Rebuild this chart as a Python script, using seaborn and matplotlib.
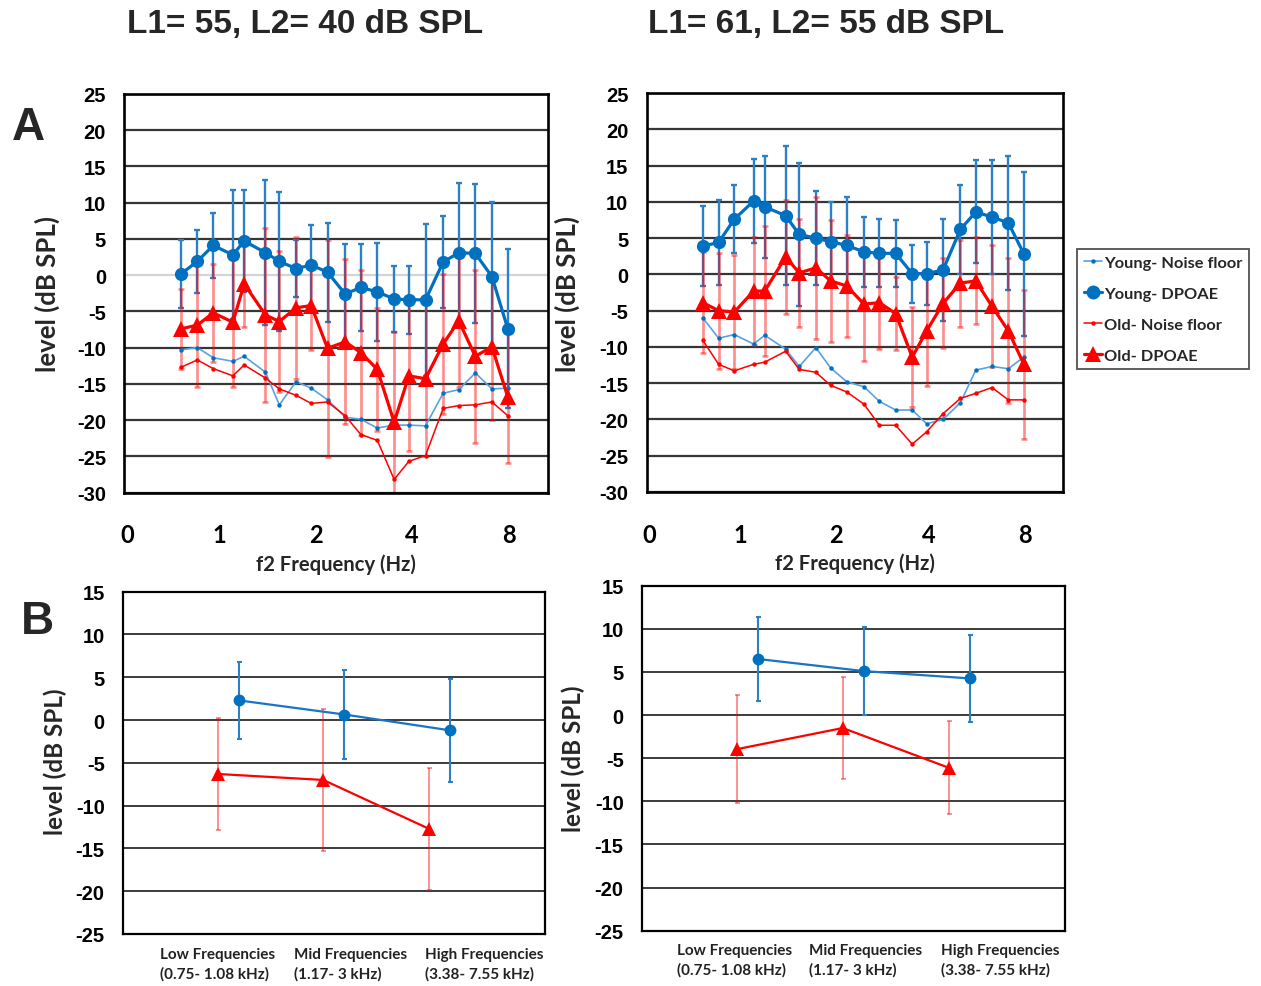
import matplotlib
matplotlib.use("Agg")
import matplotlib.pyplot as plt
from matplotlib.lines import Line2D
import numpy as np
import pandas as pd
import seaborn as sns

# ---------------- data ----------------
# f2 frequencies of the DP-gram (kHz)
freq = [0.75, 0.84, 0.94, 1.08, 1.17, 1.36, 1.5, 1.69, 1.88, 2.11, 2.39,
        2.67, 3.0, 3.38, 3.75, 4.22, 4.78, 5.34, 6.0, 6.75, 7.55]

# L1=55 / L2=40 dB SPL
young_dp_55 = [0.2, 1.9, 4.1, 2.8, 4.7, 3.1, 1.9, 0.9, 1.4, 0.4, -2.6,
               -1.7, -2.3, -3.3, -3.4, -3.4, 1.8, 3.1, 3.0, -0.2, -7.4]
young_sd_55 = [4.7, 4.3, 4.5, 8.9, 7.0, 10.0, 9.6, 3.9, 5.5, 6.8, 6.9,
               6.0, 6.8, 4.6, 4.7, 10.5, 6.3, 9.6, 9.6, 10.3, 11.0]
old_dp_55 = [-7.4, -6.9, -5.2, -6.5, -1.2, -5.5, -6.4, -4.5, -4.2, -10.1, -9.2,
             -10.7, -13.0, -20.3, -13.9, -14.3, -9.5, -6.3, -11.2, -9.9, -16.8]
old_sd_55 = [5.5, 8.5, 6.8, 8.9, 5.9, 12.0, 9.7, 9.8, 6.2, 15.0, 11.4,
             11.4, 8.5, 12.5, 10.4, 10.7, 9.7, 9.2, 11.9, 10.1, 9.1]
young_nf_55 = [-10.3, -10.0, -11.4, -11.9, -11.2, -13.4, -17.9, -14.7, -15.6, -17.2, -19.6,
               -19.9, -21.1, -20.7, -20.7, -20.8, -16.3, -15.8, -13.5, -15.7, -15.6]
old_nf_55 = [-12.7, -11.7, -12.9, -13.9, -12.4, -14.2, -15.7, -16.6, -17.7, -17.5, -19.4,
             -22.0, -22.8, -28.2, -25.7, -24.9, -18.4, -18.0, -17.9, -17.5, -19.4]

# L1=61 / L2=55 dB SPL
young_dp_61 = [3.9, 4.4, 7.6, 10.1, 9.3, 8.1, 5.5, 5.0, 4.5, 4.0, 3.1,
               2.9, 2.9, 0.1, 0.1, 0.6, 6.2, 8.6, 7.9, 7.1, 2.8]
young_sd_61 = [5.5, 5.9, 4.7, 5.8, 7.0, 9.6, 9.9, 6.5, 5.5, 6.6, 4.8,
               4.7, 4.6, 4.0, 4.3, 7.0, 6.1, 7.1, 7.8, 9.2, 11.3]
old_dp_61 = [-3.9, -5.0, -5.2, -2.3, -2.3, 2.4, 0.2, 0.9, -0.9, -1.6, -4.1,
             -3.9, -5.4, -11.4, -7.8, -4.0, -1.2, -0.9, -4.4, -7.8, -12.4]
old_sd_61 = [7.0, 8.0, 7.9, 7.5, 9.0, 7.8, 7.5, 9.8, 8.4, 7.0, 7.9,
             6.4, 5.0, 6.9, 7.6, 6.2, 6.0, 6.0, 8.4, 10.0, 10.3]
young_nf_61 = [-6.0, -8.8, -8.3, -9.6, -8.4, -10.3, -12.7, -10.1, -12.9, -14.8, -15.5,
               -17.5, -18.7, -18.7, -20.6, -20.0, -17.7, -13.2, -12.7, -13.0, -11.4]
old_nf_61 = [-9.1, -12.4, -13.3, -12.4, -12.1, -10.6, -13.1, -13.5, -15.3, -16.2, -17.9,
             -20.8, -20.8, -23.4, -21.7, -19.2, -17.1, -16.4, -15.6, -17.3, -17.3]

# frequency-band averages
bands = ["Low Frequencies\n(0.75- 1.08 kHz)",
         "Mid Frequencies\n(1.17- 3 kHz)",
         "High Frequencies\n(3.38- 7.55 kHz)"]
young_band_55 = [2.3, 0.65, -1.2]
young_band_sd_55 = [4.5, 5.15, 6.0]
old_band_55 = [-6.3, -7.0, -12.7]
old_band_sd_55 = [6.55, 8.3, 7.15]
young_band_61 = [6.5, 5.1, 4.25]
young_band_sd_61 = [4.85, 5.1, 5.05]
old_band_61 = [-3.95, -1.5, -6.1]
old_band_sd_61 = [6.3, 5.95, 5.4]

titles = ["L1= 55, L2= 40 dB SPL", "L1= 61, L2= 55 dB SPL"]
freq_tick_labels = ["0", "1", "2", "4", "8"]
series_names = ["Young- Noise floor", "Young- DPOAE", "Old- Noise floor", "Old- DPOAE"]

# ---------------- style ----------------
sns.set_theme(style="white")
plt.rcParams["font.family"] = ["Lato", "DejaVu Sans"]
NARROW = ["Liberation Sans Narrow", "Liberation Sans", "DejaVu Sans"]

BLUE = "#0070C0"
BLUE_BAR = "#2b80c8"
BLUE_NF = "#5aa2e0"
RED = "#FF0000"
RED_BAR = (1.0, 0.0, 0.0, 0.45)
GRID = "#363636"

W, H = 1261, 987
fig = plt.figure(figsize=(W / 100, H / 100), dpi=100)


def rect(x0, x1, y0, y1):
    return [x0 / W, 1 - y1 / H, (x1 - x0) / W, (y1 - y0) / H]


axA1 = fig.add_axes(rect(124, 547.5, 95, 493.5))
axA2 = fig.add_axes(rect(646.5, 1063, 94, 493))
axB1 = fig.add_axes(rect(122.7, 545, 592.7, 935))
axB2 = fig.add_axes(rect(641.7, 1065, 586.7, 931.7))

freq_ticks = [0.51, 0.98, 1.95, 3.82, 7.62]


def style_frame(ax, lw):
    for s in ax.spines.values():
        s.set_visible(True)
        s.set_color("black")
        s.set_linewidth(lw)
        s.set_zorder(6)


def draw_dpgram(ax, ydp, ysd, odp, osd, ynf, onf, light_zero):
    df = pd.DataFrame({"f": freq, "ydp": ydp, "odp": odp, "ynf": ynf, "onf": onf})
    ax.set_xscale("log")
    ax.errorbar(freq, ydp, yerr=ysd, fmt="none", ecolor=BLUE_BAR, elinewidth=1.7,
                capsize=2, capthick=1.7, zorder=2)
    ax.errorbar(freq, odp, yerr=osd, fmt="none", ecolor=RED_BAR, elinewidth=1.9,
                capsize=2, capthick=1.9, zorder=2.5)
    sns.lineplot(data=df, x="f", y="ynf", ax=ax, color=BLUE_NF, lw=1.2, marker="o",
                 markersize=3.2, markerfacecolor=BLUE, markeredgewidth=0,
                 errorbar=None, zorder=3)
    sns.lineplot(data=df, x="f", y="onf", ax=ax, color=RED, lw=1.1, marker="o",
                 markersize=3.2, markeredgewidth=0, errorbar=None, zorder=3)
    sns.lineplot(data=df, x="f", y="ydp", ax=ax, color=BLUE, lw=2.3, marker="o",
                 markersize=9.5, markeredgewidth=0, errorbar=None, zorder=4)
    sns.lineplot(data=df, x="f", y="odp", ax=ax, color=RED, lw=2.3, marker="^",
                 markersize=11, markeredgewidth=0, errorbar=None, zorder=5)
    ax.set_xlim(0.5, 10)
    ax.set_ylim(-30, 25)
    yt = list(range(-30, 30, 5))
    ax.set_yticks(yt)
    ax.set_yticklabels([str(v) for v in yt], fontfamily=NARROW, fontweight="bold",
                       fontsize=14.5)
    ax.xaxis.set_minor_locator(matplotlib.ticker.NullLocator())
    ax.set_xticks(freq_ticks)
    ax.set_xticklabels(freq_tick_labels, fontweight="bold", fontsize=17)
    ax.tick_params(axis="y", length=0, pad=13, colors="black")
    ax.tick_params(axis="x", length=0, pad=22, colors="black")
    ax.yaxis.grid(True, color=GRID, lw=1.6)
    ax.xaxis.grid(False)
    if light_zero:
        for gl, v in zip(ax.get_ygridlines(), yt):
            if v == 0:
                gl.set_color("#d4d4d4")
    ax.set_axisbelow(True)
    ax.set_xlabel("f2 Frequency (Hz)", fontweight="bold", fontsize=14.6, labelpad=5)
    ax.set_ylabel("level (dB SPL)", fontweight="bold", fontsize=18.5)
    style_frame(ax, 1.9)


def draw_bands(ax, ym, ysd, om, osd, xlab_left, lab_y):
    cat = np.arange(1, len(bands) + 1)
    dy = pd.DataFrame({"x": cat + 0.1, "v": ym})
    do = pd.DataFrame({"x": cat - 0.1, "v": om})
    ax.errorbar(dy["x"], ym, yerr=ysd, fmt="none", ecolor=BLUE_BAR, elinewidth=1.5,
                capsize=1.8, capthick=1.5, zorder=2)
    ax.errorbar(do["x"], om, yerr=osd, fmt="none", ecolor=(1, 0, 0, 0.55), elinewidth=1.1,
                capsize=1.8, capthick=1.1, zorder=2)
    sns.lineplot(data=dy, x="x", y="v", ax=ax, color="#1a74c4", lw=1.6, marker="o",
                 markersize=8.5, markeredgewidth=0, markerfacecolor=BLUE,
                 errorbar=None, zorder=4)
    sns.lineplot(data=do, x="x", y="v", ax=ax, color=RED, lw=1.6, marker="^",
                 markersize=10, markeredgewidth=0, errorbar=None, zorder=4)
    ax.set_xlim(0, 4)
    ax.set_ylim(-25, 15)
    yt = list(range(-25, 20, 5))
    ax.set_yticks(yt)
    ax.set_yticklabels([str(v) for v in yt], fontfamily=NARROW, fontweight="bold",
                       fontsize=14.5)
    ax.set_xticks([])
    ax.tick_params(axis="y", length=0, pad=13, colors="black")
    ax.yaxis.grid(True, color="#3c3c3c", lw=1.4)
    ax.xaxis.grid(False)
    ax.set_axisbelow(True)
    for xl, lab in zip(xlab_left, bands):
        ax.text(xl, lab_y, lab, transform=ax.get_xaxis_transform(), ha="left",
                va="top", fontsize=11, fontweight="bold", linespacing=1.42,
                color="#222222", clip_on=False)
    ax.set_xlabel("")
    ax.set_ylabel("level (dB SPL)", fontweight="bold", fontsize=17.5)
    style_frame(ax, 1.6)


draw_dpgram(axA1, young_dp_55, young_sd_55, old_dp_55, old_sd_55,
            young_nf_55, old_nf_55, light_zero=True)
draw_dpgram(axA2, young_dp_61, young_sd_61, old_dp_61, old_sd_61,
            young_nf_61, old_nf_61, light_zero=False)
draw_bands(axB1, young_band_55, young_band_sd_55, old_band_55, old_band_sd_55,
           [0.354, 1.624, 2.866], -0.039)
draw_bands(axB2, young_band_61, young_band_sd_61, old_band_61, old_band_sd_61,
           [0.333, 1.58, 2.83], -0.036)

axA1.yaxis.set_label_coords(-0.151, 0.5)
axA2.yaxis.set_label_coords(-0.16, 0.5)
axB1.yaxis.set_label_coords(-0.132, 0.505)
axB2.yaxis.set_label_coords(-0.134, 0.5)

# column titles and panel letters
fig.text(305 / W, 1 - 24 / H, titles[0], ha="center", va="center",
         fontsize=24, fontweight="bold", family=NARROW)
fig.text(826 / W, 1 - 24 / H, titles[1], ha="center", va="center",
         fontsize=24, fontweight="bold", family=NARROW)
fig.text(28 / W, 1 - 128 / H, "A", ha="center", va="center", fontsize=33,
         fontweight="bold", family=["Liberation Sans", "DejaVu Sans"])
fig.text(37 / W, 1 - 622 / H, "B", ha="center", va="center", fontsize=33,
         fontweight="bold", family=["Liberation Sans", "DejaVu Sans"])

# legend
handles = [
    Line2D([], [], color=BLUE_NF, lw=1.2, marker="o", markersize=3.2,
           markerfacecolor=BLUE, markeredgewidth=0),
    Line2D([], [], color=BLUE, lw=2.3, marker="o", markersize=10, markeredgewidth=0),
    Line2D([], [], color=RED, lw=1.1, marker="o", markersize=3.2, markeredgewidth=0),
    Line2D([], [], color=RED, lw=2.3, marker="^", markersize=11, markeredgewidth=0),
]
leg = fig.legend(handles, series_names, loc="upper left",
                 bbox_to_anchor=(1077 / W, 1 - 250 / H), frameon=True,
                 fancybox=False, edgecolor="#505050", framealpha=1,
                 prop={"weight": "bold", "size": 11.8}, handlelength=1.1,
                 handletextpad=0.15, borderpad=0.4, labelspacing=1.0,
                 borderaxespad=0)
leg.get_frame().set_linewidth(1.3)

fig.savefig("out.png", dpi=100, facecolor="white")
